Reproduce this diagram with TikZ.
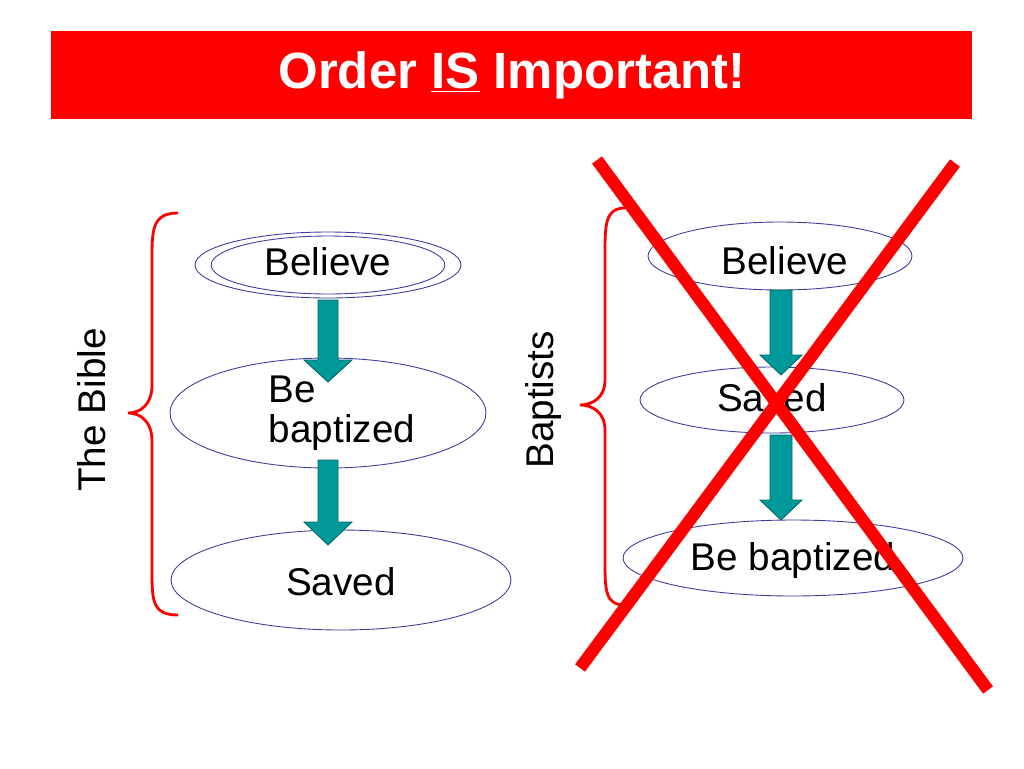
\documentclass[tikz,border=0pt]{standalone}
\usepackage{fontspec}
\setmainfont{Liberation Sans}
\usetikzlibrary{shapes.geometric}
\definecolor{tealf}{RGB}{0,153,153}
\definecolor{teald}{RGB}{0,102,102}
\definecolor{ellb}{RGB}{60,60,160}
\begin{document}
\begin{tikzpicture}[x=0.02cm,y=-0.02cm,
  ell/.style={draw=ellb,line width=0.5pt,ellipse,inner sep=0pt,font=\fontsize{22}{23}\selectfont},
  lbl/.style={font=\fontsize{22}{23}\selectfont,align=left},
  brace/.style={draw=red,line width=1.6pt},
  cross/.style={draw=red,line width=7pt}]
\useasboundingbox (0,0) rectangle (1024,768);
\fill[red] (51,31) rectangle (972,119);
\node (title) at (512,75) {\fontsize{29}{30}\selectfont\bfseries\color{white}Order \underline{IS} Important!};
% left column
\node[ell,minimum width=266\pgflinewidth,minimum height=66\pgflinewidth] (lb) at (328,265) {};
\node[draw=ellb,line width=0.5pt,ellipse,minimum width=5.32cm,minimum height=1.32cm] (lb2) at (328,265) {};
\node[lbl] (lbt) at (328,262) {Believe};
\node[draw=ellb,line width=0.5pt,ellipse,minimum width=6.32cm,minimum height=2.2cm] (lbz) at (328,413) {};
\node[lbl] (lbzt) at (342,413) {Be\\baptized};
\node[draw=ellb,line width=0.5pt,ellipse,minimum width=6.8cm,minimum height=2.0cm] (ls) at (341,580) {};
\node[lbl] (lst) at (341,582) {Saved};
\filldraw[fill=tealf,draw=teald,line width=0.5pt] (318,300)--(338,300)--(338,360)--(352,360)--(328,382)--(304,360)--(318,360)--cycle;
\filldraw[fill=tealf,draw=teald,line width=0.5pt] (318,460)--(338,460)--(338,522)--(352,522)--(328,545)--(304,522)--(318,522)--cycle;
\draw[brace] (178,213) .. controls (152,213) and (152,230) .. (152,260) -- (152,385) .. controls (152,405) and (140,413) .. (128,413)
  .. controls (140,413) and (152,421) .. (152,441) -- (152,570) .. controls (152,600) and (152,615) .. (178,615);
\node[rotate=90,lbl] (bible) at (92,410) {The Bible};
% right column
\node[rotate=90,lbl] (bap) at (543,400) {Baptists};
\draw[brace] (625,208) .. controls (605,208) and (605,225) .. (605,255) -- (605,380) .. controls (605,398) and (592,405) .. (580,405)
  .. controls (592,405) and (605,412) .. (605,430) -- (605,560) .. controls (605,590) and (605,605) .. (625,605);
\node[draw=ellb,line width=0.5pt,ellipse,minimum width=5.28cm,minimum height=1.36cm] (rb) at (780,256) {};
\node[lbl] (rbt) at (785,261) {Believe};
\node[draw=ellb,line width=0.5pt,ellipse,minimum width=5.28cm,minimum height=1.32cm] (rs) at (772,400) {};
\node[lbl] (rst) at (772,398) {Saved};
\node[draw=ellb,line width=0.5pt,ellipse,minimum width=6.8cm,minimum height=1.52cm] (rbz) at (793,558) {};
\node[lbl] (rbzt) at (793,560) {Be baptized};
\filldraw[fill=tealf,draw=teald,line width=0.5pt] (770,290)--(792,290)--(792,355)--(802,355)--(781,375)--(760,355)--(770,355)--cycle;
\filldraw[fill=tealf,draw=teald,line width=0.5pt] (770,435)--(792,435)--(792,500)--(802,500)--(781,520)--(760,500)--(770,500)--cycle;
\draw[cross] (597,160) -- (988,690);
\draw[cross] (955,163) -- (580,668);
\end{tikzpicture}
\end{document}
